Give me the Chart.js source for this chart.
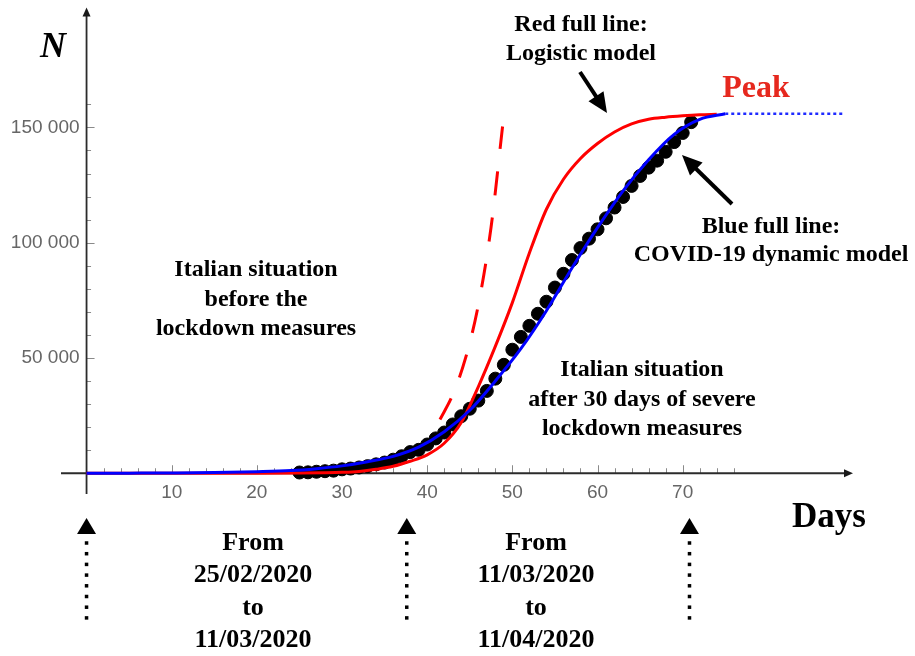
<!DOCTYPE html>
<html>
<head>
<meta charset="utf-8">
<title>Italy COVID-19 cases</title>
<script src="https://cdn.jsdelivr.net/npm/chart.js@4.4.0/dist/chart.umd.min.js"></script>
<style>
  html, body { margin: 0; padding: 0; background: #fff; }
</style>
</head>
<body>
<canvas id="cases" width="915" height="656"></canvas>
<script>
// reported total cases, one per day
const DAYS = [25, 26, 27, 28, 29, 30, 31, 32, 33, 34, 35, 36, 37, 38, 39, 40,
  41, 42, 43, 44, 45, 46, 47, 48, 49, 50, 51, 52, 53, 54, 55, 56, 57, 58, 59, 60,
  61, 62, 63, 64, 65, 66, 67, 68, 69, 70, 71];
const CASES = [322, 400, 650, 888, 1128, 1694, 2036, 2502, 3089, 3858, 4636, 5883,
  7375, 9172, 10149, 12462, 15113, 17660, 21157, 24747, 27980, 31506, 35713, 41035,
  47021, 53578, 59138, 63927, 69176, 74386, 80539, 86498, 92472, 97689, 101739,
  105792, 110574, 115242, 119827, 124632, 128948, 132547, 135586, 139422, 143626,
  147577, 152271];

// logistic model (red full line)
const LOGISTIC_DAYS = [0, 10, 20, 25, 28, 30, 32, 34, 36, 38, 40, 42, 44, 46, 48,
  50, 52, 54, 56, 58, 60, 62, 64, 66, 68, 70, 72, 74];
const LOGISTIC_N = [0, 5, 30, 100, 220, 400, 800, 1700, 3000, 5200, 8000, 13000,
  22000, 37500, 55000, 74000, 95500, 114500, 127500, 136500, 143000, 148000, 151500,
  153500, 154400, 155000, 155450, 155700];

// early exponential growth (red dashed line)
const EXP_DAYS = [41.5, 43, 44.5, 46, 47.5, 48.85];
const EXP_N = [23300, 34100, 49900, 72900, 106700, 150400];

// COVID-19 dynamic model (blue full line)
const DYN_DAYS = [0, 5, 10, 15, 20, 24, 27, 30, 33, 36, 39, 42, 45, 48, 51, 54,
  57, 60, 63, 66, 69, 72, 75];
const DYN_N = [0, 50, 120, 280, 650, 1150, 2000, 3200, 5000, 7300, 11300, 18000,
  27300, 40000, 54000, 70500, 89000, 106500, 122500, 136000, 147000, 153500, 155900];

// plateau after the peak (blue dotted line)
const PLATEAU_DAYS = [75, 89];
const PLATEAU_N = [155900, 155900];

const X_TICKS = [10, 20, 30, 40, 50, 60, 70];
const Y_TICKS = [50000, 100000, 150000];
const Y_TICK_LABELS = ["50 000", "100 000", "150 000"];

// period markers under the axis
const PERIOD_DAYS = [0, 37.6, 70.8];

const toPoints = (xs, ys) => xs.map((x, i) => ({ x: x, y: ys[i] }));

function arrowHead(ctx, x, y, angle, len, width) {
    ctx.save();
    ctx.translate(x, y);
    ctx.rotate(angle);
    ctx.beginPath();
    ctx.moveTo(0, 0);
    ctx.lineTo(-len, -width / 2);
    ctx.lineTo(-len, width / 2);
    ctx.closePath();
    ctx.fill();
    ctx.restore();
}

function drawArrow(ctx, x1, y1, x2, y2) {
    const a = Math.atan2(y2 - y1, x2 - x1);
    ctx.save();
    ctx.strokeStyle = "#000";
    ctx.fillStyle = "#000";
    ctx.lineWidth = 4;
    ctx.beginPath();
    ctx.moveTo(x1, y1);
    ctx.lineTo(x2 - 16 * Math.cos(a), y2 - 16 * Math.sin(a));
    ctx.stroke();
    arrowHead(ctx, x2, y2, a, 20, 18);
    ctx.restore();
}

function lines(ctx, rows, x, y0, step) {
    rows.forEach((t, i) => ctx.fillText(t, x, y0 + i * step));
}

const axesPlugin = {
    id: "axes",
    beforeDatasetsDraw(chart) {
        const ctx = chart.ctx;
        const xs = chart.scales.x, ys = chart.scales.y;
        const x0 = xs.getPixelForValue(0), y0 = ys.getPixelForValue(0);
        ctx.save();

        // ticks point inwards
        ctx.strokeStyle = "#8a8a8a";
        ctx.lineWidth = 1;
        ctx.beginPath();
        for (let d = 2; d <= 76; d += 2) {
            const px = Math.round(xs.getPixelForValue(d)) + 0.5;
            const len = d % 10 === 0 ? 8 : 5;
            ctx.moveTo(px, y0);
            ctx.lineTo(px, y0 - len);
        }
        for (let v = 10000; v <= 160000; v += 10000) {
            const py = Math.round(ys.getPixelForValue(v)) + 0.5;
            const len = v % 50000 === 0 ? 8 : 4.5;
            ctx.moveTo(x0, py);
            ctx.lineTo(x0 + len, py);
        }
        ctx.stroke();

        // axis lines with arrows
        ctx.strokeStyle = "#2b2b2b";
        ctx.fillStyle = "#1a1a1a";
        ctx.lineWidth = 1.8;
        ctx.beginPath();
        ctx.moveTo(xs.left, y0);
        ctx.lineTo(xs.right - 4, y0);
        ctx.moveTo(x0, ys.bottom);
        ctx.lineTo(x0, ys.top + 4);
        ctx.stroke();
        arrowHead(ctx, xs.right, y0, 0, 9, 8);
        arrowHead(ctx, x0, ys.top, -Math.PI / 2, 9, 8);

        // tick labels
        ctx.fillStyle = "#666";
        ctx.font = '19px "Liberation Sans", Arial, sans-serif';
        ctx.textAlign = "center";
        ctx.textBaseline = "middle";
        X_TICKS.forEach(d => ctx.fillText(String(d), xs.getPixelForValue(d), y0 + 20));
        ctx.textAlign = "right";
        Y_TICKS.forEach((v, i) => ctx.fillText(Y_TICK_LABELS[i], x0 - 7, ys.getPixelForValue(v)));
        ctx.restore();
    },
    afterDraw(chart) {
        const ctx = chart.ctx;
        const xs = chart.scales.x;
        ctx.save();
        ctx.fillStyle = "#000";
        ctx.textAlign = "center";
        ctx.textBaseline = "alphabetic";

        ctx.font = 'italic bold 36px "Liberation Serif", "Times New Roman", serif';
        ctx.fillText("N", 53, 57);
        ctx.font = 'bold 35px "Liberation Serif", "Times New Roman", serif';
        ctx.fillText("Days", 829, 527);

        ctx.font = 'bold 24px "Liberation Serif", "Times New Roman", serif';
        lines(ctx, ["Red full line:", "Logistic model"], 581, 31, 29);
        lines(ctx, ["Blue full line:", "COVID-19 dynamic model"], 771, 233, 28);
        lines(ctx, ["Italian situation", "before the", "lockdown measures"], 256, 276, 29.5);
        lines(ctx, ["Italian situation", "after 30 days of severe", "lockdown measures"], 642, 376, 29.5);

        ctx.font = 'bold 26px "Liberation Serif", "Times New Roman", serif';
        lines(ctx, ["From", "25/02/2020", "to", "11/03/2020"], 253, 550, 32.3);
        lines(ctx, ["From", "11/03/2020", "to", "11/04/2020"], 536, 550, 32.3);

        ctx.fillStyle = "#e6281e";
        ctx.font = 'bold 32px "Liberation Serif", "Times New Roman", serif';
        ctx.fillText("Peak", 756, 97);

        drawArrow(ctx, 580, 72, 607, 113);
        drawArrow(ctx, 732, 204, 682, 155);

        // period markers: dotted shafts with a solid head
        ctx.fillStyle = "#000";
        PERIOD_DAYS.forEach(d => {
            const px = xs.getPixelForValue(d);
            arrowHead(ctx, px, 518, -Math.PI / 2, 16, 19);
            for (let y = 543; y <= 619; y += 10.7) {
                ctx.fillRect(px - 1.75, y - 1.75, 3.5, 3.5);
            }
        });
        ctx.restore();
    }
};

new Chart(document.getElementById("cases"), {
    type: "scatter",
    data: {
        datasets: [
            {
                type: "line",
                data: toPoints(DYN_DAYS, DYN_N),
                borderColor: "#0000ff",
                borderWidth: 3,
                pointRadius: 0,
                cubicInterpolationMode: "monotone",
                order: 0
            },
            {
                type: "line",
                data: toPoints(PLATEAU_DAYS, PLATEAU_N),
                borderColor: "#1f2bff",
                borderWidth: 2.5,
                borderDash: [3, 3],
                pointRadius: 0,
                order: 0
            },
            {
                type: "line",
                data: toPoints(LOGISTIC_DAYS, LOGISTIC_N),
                borderColor: "#ff0000",
                borderWidth: 3,
                pointRadius: 0,
                cubicInterpolationMode: "monotone",
                order: 1
            },
            {
                type: "line",
                data: toPoints(EXP_DAYS, EXP_N),
                borderColor: "#ff0000",
                borderWidth: 3,
                borderDash: [24, 22.5],
                pointRadius: 0,
                cubicInterpolationMode: "monotone",
                order: 1
            },
            {
                data: toPoints(DAYS, CASES),
                backgroundColor: "#000",
                borderColor: "#000",
                pointRadius: 6.5,
                order: 2
            }
        ]
    },
    options: {
        responsive: false,
        animation: false,
        layout: { padding: { left: 61, right: 62, top: 5, bottom: 162 } },
        scales: {
            x: { type: "linear", min: -3, max: 90, display: false },
            y: { type: "linear", min: -9000, max: 202000, display: false }
        },
        plugins: {
            legend: { display: false },
            tooltip: { enabled: false }
        }
    },
    plugins: [axesPlugin]
});
</script>
</body>
</html>
